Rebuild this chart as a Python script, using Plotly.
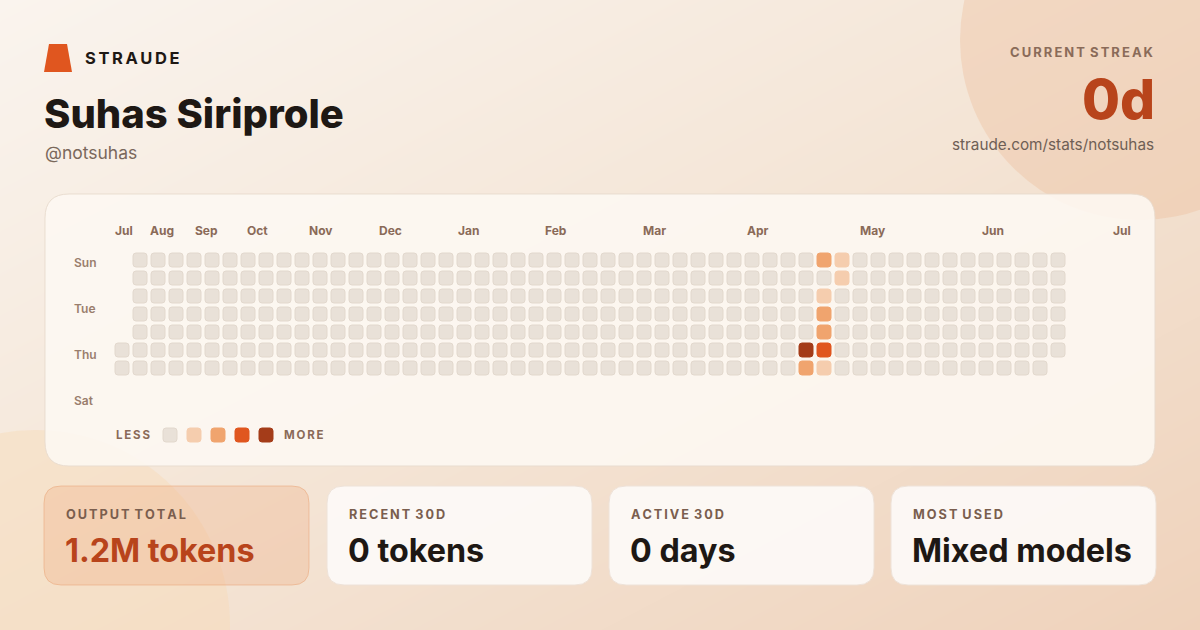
import plotly.graph_objects as go

# ---------------- data ----------------
profile_name = "Suhas Siriprole"
profile_handle = "@notsuhas"
brand = "STRAUDE"
streak_label = "CURRENT STREAK"
streak_value = "0d"
profile_url = "straude.com/stats/notsuhas"

month_labels = ["Jul", "Aug", "Sep", "Oct", "Nov", "Dec", "Jan", "Feb", "Mar", "Apr", "May", "Jun", "Jul"]
day_labels = ["Sun", "Tue", "Thu", "Sat"]
weekday_names = ["Sun", "Mon", "Tue", "Wed", "Thu", "Fri", "Sat"]

n_weeks = 53
first_week_start_day = 5   # first column begins on row 5
last_week_end_day = 5      # last column ends on row 5

active_week = [38, 38, 39, 39, 39, 39, 39, 39, 40, 40]
active_day = [5, 6, 0, 2, 3, 4, 5, 6, 0, 1]
active_level = [4, 2, 2, 1, 2, 2, 3, 1, 1, 1]

stat_labels = ["OUTPUT TOTAL", "RECENT 30D", "ACTIVE 30D", "MOST USED"]
stat_values = ["1.2M tokens", "0 tokens", "0 days", "Mixed models"]

level_colors = ["#E9E1D8", "#F5CDAE", "#F0A46E", "#E0561F", "#A43C19"]

# ---------------- helpers ----------------
W, H = 1200, 630
FONT = "Inter"
INK = "#1E1814"
MUTED = "#8A6B59"
ACCENT = "#B8441B"


def rrect(x0, y0, x1, y1, r):
    return (f"M {x0 + r},{y0} L {x1 - r},{y0} Q {x1},{y0} {x1},{y0 + r} "
            f"L {x1},{y1 - r} Q {x1},{y1} {x1 - r},{y1} L {x0 + r},{y1} "
            f"Q {x0},{y1} {x0},{y1 - r} L {x0},{y0 + r} Q {x0},{y0} {x0 + r},{y0} Z")


def spaced(s, sep="\u2009"):
    return sep.join(list(s)).replace("\u2009 \u2009", " \u2009")


# grid cells
level_lookup = {(w, d): l for w, d, l in zip(active_week, active_day, active_level)}
cell_w, cell_d, cell_l = [], [], []
for w in range(n_weeks):
    for d in range(7):
        if w == 0 and d < first_week_start_day:
            continue
        if w == n_weeks - 1 and d > last_week_end_day:
            continue
        cell_w.append(w)
        cell_d.append(d)
        cell_l.append(level_lookup.get((w, d), 0))

fig = go.Figure()

# background diagonal gradient
fig.add_trace(go.Heatmap(
    x=[0, W], y=[0, H], z=[[0, 0.5], [0.5, 1]], zsmooth="best",
    colorscale=[[0, "#FAF4EE"], [0.5, "#F4E5D6"], [1, "#EFD2BB"]],
    showscale=False, hoverinfo="skip", xaxis="x", yaxis="y"))

# hover carrier for cells
fig.add_trace(go.Scatter(
    x=cell_w, y=cell_d, mode="markers", xaxis="x2", yaxis="y2",
    marker=dict(size=14, symbol="square", color="rgba(0,0,0,0)"),
    customdata=[[weekday_names[d], l] for d, l in zip(cell_d, cell_l)],
    hovertemplate="Week %{x}, %{customdata[0]}<br>Level %{customdata[1]}<extra></extra>",
    showlegend=False))

shapes = []
# decorative circles
shapes.append(dict(type="circle", xref="x", yref="y", x0=1140 - 180, x1=1140 + 180, y0=40 - 180, y1=40 + 180,
                   fillcolor="rgba(236,190,156,0.38)", line=dict(width=0), layer="above"))
shapes.append(dict(type="circle", xref="x", yref="y", x0=35 - 195, x1=35 + 195, y0=625 - 195, y1=625 + 195,
                   fillcolor="rgba(248,218,180,0.40)", line=dict(width=0), layer="above"))

# logo
shapes.append(dict(type="path", xref="x", yref="y", path="M 49,44 L 67,44 L 72,72 L 44,72 Z",
                   fillcolor="#E0561F", line=dict(width=0), layer="above"))

# heatmap panel
shapes.append(dict(type="path", xref="x", yref="y", path=rrect(45, 194, 1155, 466, 24),
                   fillcolor="rgba(253,248,243,0.88)", line=dict(color="rgba(232,218,205,0.9)", width=1),
                   layer="above"))

# cells through the grid axes
hs = 7 / 18
rr = 3 / 18
for w, d, l in zip(cell_w, cell_d, cell_l):
    shapes.append(dict(type="path", xref="x2", yref="y2",
                       path=rrect(w - hs, d - hs, w + hs, d + hs, rr),
                       fillcolor=level_colors[l],
                       line=dict(color="#E2D8CD" if l == 0 else level_colors[l], width=1),
                       layer="above"))

# legend swatches
for i, c in enumerate(level_colors):
    x0 = 163 + 24 * i
    shapes.append(dict(type="path", xref="x", yref="y", path=rrect(x0, 428, x0 + 14, 442, 3),
                       fillcolor=c, line=dict(color="#E2D8CD" if i == 0 else c, width=1), layer="above"))

# stat cards
card_x = [44, 327, 609, 891]
for i, x0 in enumerate(card_x):
    if i == 0:
        fill, edge = "rgba(238,170,125,0.30)", "rgba(234,165,120,0.55)"
    else:
        fill, edge = "rgba(253,250,247,0.92)", "rgba(238,226,216,1)"
    shapes.append(dict(type="path", xref="x", yref="y", path=rrect(x0, 486, x0 + 265, 585, 17),
                       fillcolor=fill, line=dict(color=edge, width=1), layer="above"))

ann = []


def text(x, y, s, size, color, weight=400, xanchor="left"):
    ann.append(dict(x=x, y=y, xref="x", yref="y", text=s, showarrow=False,
                    xanchor=xanchor, yanchor="middle",
                    font=dict(family=FONT, size=size, color=color, weight=weight)))


text(83, 58, spaced(brand), 16.5, INK, 700)
text(42, 113, profile_name, 40, INK, 800)
text(43, 152, profile_handle, 17.5, "#7A685C", 400)

text(1156, 52, spaced(streak_label), 13, MUTED, 700, "right")
text(1157, 99, streak_value, 55, ACCENT, 800, "right")
text(1156, 144, profile_url, 15.3, "#6F5F55", 400, "right")

month_x = [124, 162, 206, 257, 320, 390, 468, 556, 654, 758, 873, 993, 1122]
for m, x in zip(month_labels, month_x):
    text(x, 230, m, 12, "#8A6A58", 700, "center")

day_y = [262, 308, 354, 400]
for dname, y in zip(day_labels, day_y):
    text(72, y, dname, 12, "#9A7E6D", 600)

text(114, 435, spaced("LESS"), 11.5, "#8A6A58", 700)
text(282, 435, spaced("MORE"), 11.5, "#8A6A58", 700)

for i, x0 in enumerate(card_x):
    text(x0 + 20, 514, spaced(stat_labels[i]), 12.7, "#7A5E4E", 700)
    text(x0 + 19, 550, stat_values[i], 32.3, ACCENT if i == 0 else INK, 700)

fig.update_layout(
    width=W, height=H, margin=dict(l=0, r=0, t=0, b=0),
    paper_bgcolor="#F5E8DA", plot_bgcolor="rgba(0,0,0,0)",
    showlegend=False, shapes=shapes, annotations=ann,
    xaxis=dict(range=[0, W], domain=[0, 1], visible=False, fixedrange=True),
    yaxis=dict(range=[H, 0], domain=[0, 1], visible=False, fixedrange=True),
    xaxis2=dict(range=[-0.5, n_weeks - 0.5], domain=[113 / W, 1067 / W], visible=False, anchor="y2"),
    yaxis2=dict(range=[6.5, -0.5], domain=[1 - 377 / H, 1 - 251 / H], visible=False, anchor="x2"),
)

fig.write_html("out.html")
